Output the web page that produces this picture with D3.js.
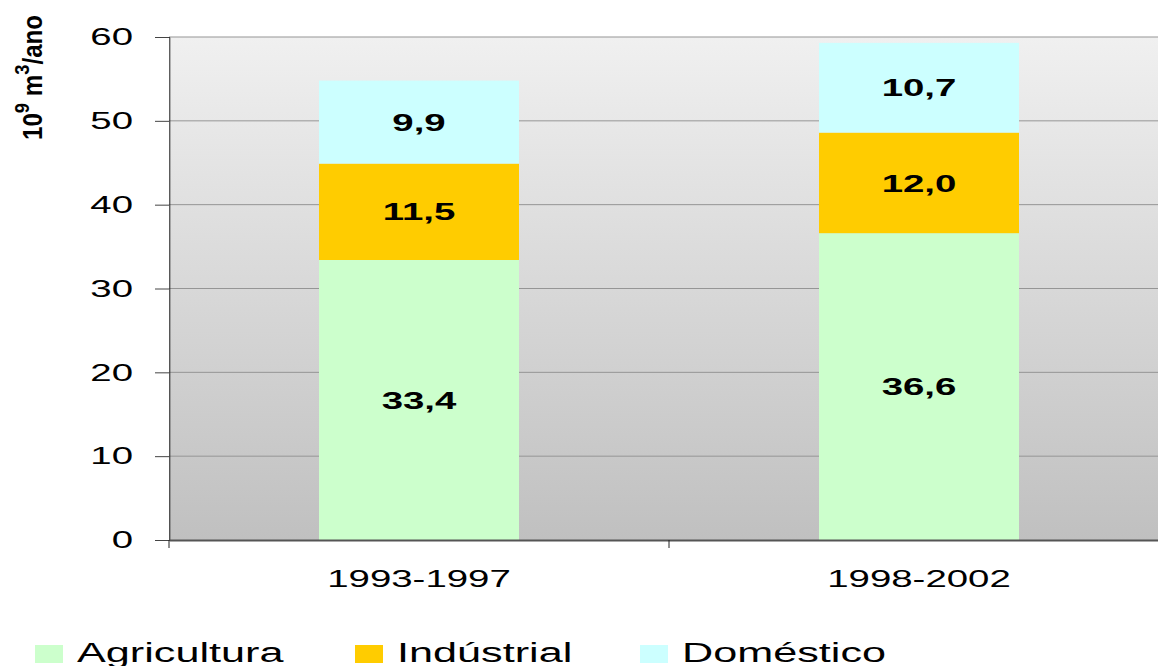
<!DOCTYPE html>
<html>
<head>
<meta charset="utf-8">
<script src="https://cdn.jsdelivr.net/npm/d3@7"></script>
<style>
  body { margin: 0; background: #fff; }
  svg { display: block; font-family: "Liberation Sans", Arial, sans-serif; }
  line, path { vector-effect: non-scaling-stroke; }
</style>
</head>
<body>
<div id="chart"></div>
<script>
// data
var categories = ["1993-1997", "1998-2002"];
var seriesNames = ["Agricultura", "Indústrial", "Doméstico"];
var agricultura = [33.4, 36.6];
var industrial = [11.5, 12.0];
var domestico = [9.9, 10.7];
var yTicks = [0, 10, 20, 30, 40, 50, 60];
var colors = ["#ccffcc", "#ffcc00", "#ccffff"];

// the original picture is stretched sideways, so draw in a narrower box and stretch it
var sx = 1.6,
    W = 1158, H = 666,
    vw = W / sx;

var plotLeft = 169 / sx, plotRight = 1169 / sx,
    plotTop = 37, plotBottom = 540;

var svg = d3.select("#chart")
  .append("svg")
    .attr("width", W)
    .attr("height", H)
    .attr("viewBox", "0 0 " + vw + " " + H)
    .attr("preserveAspectRatio", "none");

var x = d3.scaleBand()
  .domain(categories)
  .range([plotLeft, plotRight])
  .paddingInner(0)
  .paddingOuter(0);

var y = d3.scaleLinear()
  .domain([0, 60])
  .range([plotBottom, plotTop]);

// background gradient
var grad = svg.append("defs").append("linearGradient")
  .attr("id", "bg")
  .attr("x1", 0).attr("y1", 0).attr("x2", 0).attr("y2", 1);
grad.append("stop").attr("offset", "0%").attr("stop-color", "#f0f0f0");
grad.append("stop").attr("offset", "100%").attr("stop-color", "#c0c0c0");

svg.append("rect")
  .attr("x", plotLeft)
  .attr("y", plotTop)
  .attr("width", plotRight - plotLeft)
  .attr("height", plotBottom - plotTop)
  .attr("fill", "url(#bg)");

// gridlines
svg.append("g")
  .selectAll("line")
  .data(yTicks.filter(function(d) { return d > 0; }))
  .enter().append("line")
    .attr("x1", plotLeft).attr("x2", plotRight)
    .attr("y1", function(d) { return y(d); })
    .attr("y2", function(d) { return y(d); })
    .attr("stroke", "#959595")
    .attr("stroke-width", 1);

// stacked bars
var stackData = categories.map(function(c, i) {
  return { cat: c, Agricultura: agricultura[i], "Indústrial": industrial[i], "Doméstico": domestico[i] };
});
var stacked = d3.stack().keys(seriesNames)(stackData);
var barW = x.bandwidth() * 0.4;
var fmt = function(v) { return d3.format(".1f")(v).replace(".", ","); };

stacked.forEach(function(layer, k) {
  var g = svg.append("g");
  g.selectAll("rect")
    .data(layer)
    .enter().append("rect")
      .attr("x", function(d) { return x(d.data.cat) + (x.bandwidth() - barW) / 2; })
      .attr("y", function(d) { return y(d[1]); })
      .attr("width", barW)
      .attr("height", function(d) { return y(d[0]) - y(d[1]); })
      .attr("fill", colors[k]);
  g.selectAll("text")
    .data(layer)
    .enter().append("text")
      .attr("x", function(d) { return x(d.data.cat) + x.bandwidth() / 2; })
      .attr("y", function(d) { return (y(d[0]) + y(d[1])) / 2; })
      .attr("dy", "0.36em")
      .attr("text-anchor", "middle")
      .attr("font-weight", "bold")
      .attr("font-size", 24)
      .attr("fill", "#000")
      .text(function(d) { return fmt(d[1] - d[0]); });
});

// y axis
var yAxis = svg.append("g")
  .attr("transform", "translate(" + plotLeft + ",0)")
  .call(d3.axisLeft(y).tickValues(yTicks).tickSize(14 / sx).tickPadding(22 / sx));
yAxis.select(".domain").attr("stroke", "#222");
yAxis.selectAll(".tick line").attr("stroke", "#444");
yAxis.selectAll("text")
  .attr("font-size", 24)
  .attr("font-family", "Liberation Sans, Arial, sans-serif")
  .attr("fill", "#000");

// x axis
var xAxis = svg.append("g")
  .attr("transform", "translate(0," + plotBottom + ")")
  .call(d3.axisBottom(x).tickSize(0).tickPadding(30));
xAxis.select(".domain").attr("stroke", "#555").attr("stroke-width", 2);
xAxis.selectAll("text")
  .attr("font-size", 24)
  .attr("font-family", "Liberation Sans, Arial, sans-serif")
  .attr("fill", "#000");

// category separators under the axis
svg.append("g")
  .selectAll("line")
  .data(categories.concat(["end"]))
  .enter().append("line")
    .attr("x1", function(d, i) { return plotLeft + i * x.bandwidth(); })
    .attr("x2", function(d, i) { return plotLeft + i * x.bandwidth(); })
    .attr("y1", plotBottom)
    .attr("y2", plotBottom + 8)
    .attr("stroke", "#222");

// y axis title
var yt = svg.append("text")
  .attr("transform", "translate(" + (42 / sx) + "," + 140 + ") rotate(-90)")
  .attr("font-weight", "bold")
  .attr("font-size", 17)
  .attr("textLength", 125)
  .attr("lengthAdjust", "spacingAndGlyphs")
  .attr("fill", "#000");
yt.append("tspan").text("10");
yt.append("tspan").attr("dy", -8).attr("font-size", 13).text("9");
yt.append("tspan").attr("dy", 8).text(" m");
yt.append("tspan").attr("dy", -8).attr("font-size", 13).text("3");
yt.append("tspan").attr("dy", 8).text("/ano");

// legend
var legendX = [35, 355, 640];
var legend = svg.append("g")
  .selectAll("g")
  .data(seriesNames)
  .enter().append("g")
    .attr("transform", function(d, i) { return "translate(" + (legendX[i] / sx) + ",645)"; });
legend.append("rect")
  .attr("width", 28 / sx)
  .attr("height", 18)
  .attr("fill", function(d, i) { return colors[i]; });
legend.append("text")
  .attr("x", 42 / sx)
  .attr("y", 17)
  .attr("font-size", 27)
  .attr("fill", "#000")
  .text(function(d) { return d; });
</script>
</body>
</html>
